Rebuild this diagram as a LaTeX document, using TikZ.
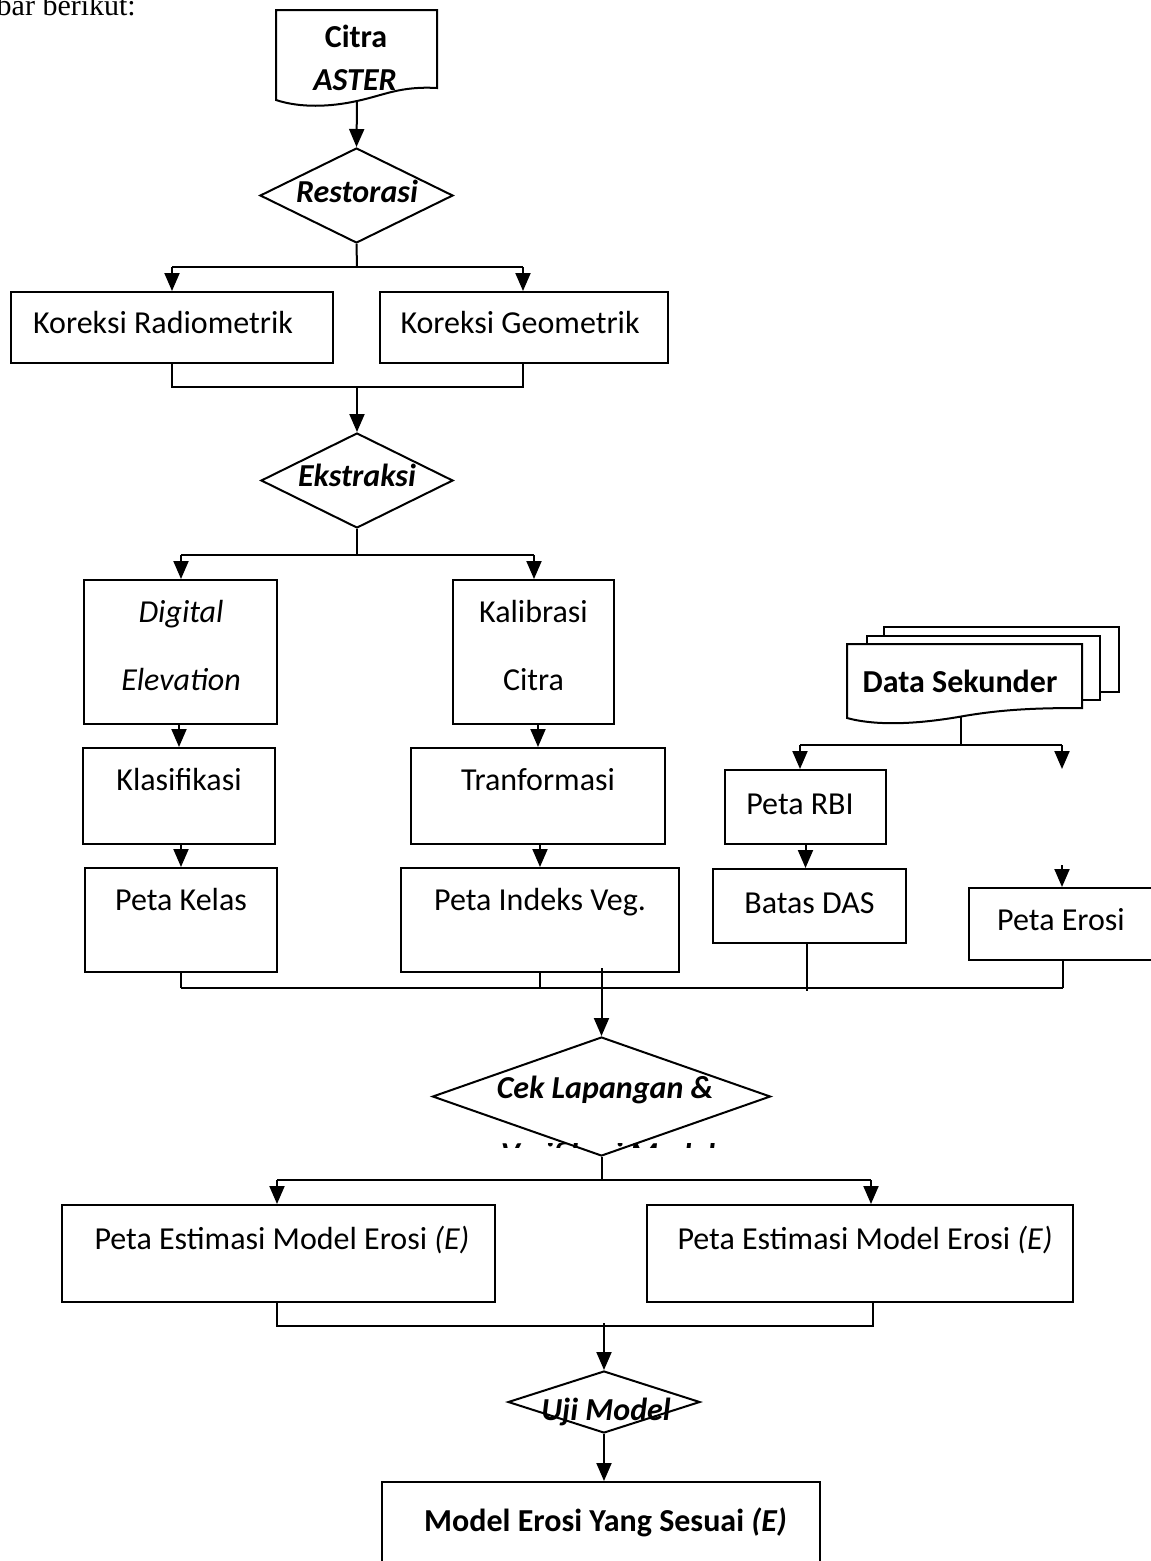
\documentclass[tikz,border=0pt]{standalone}
\usepackage{fontspec}
\setmainfont{Carlito}
\newfontfamily\headserif{Liberation Serif}
\usetikzlibrary{arrows.meta,shapes.geometric}
\newcommand\myfs{\fontsize{32}{38}\selectfont}
\tikzset{
  ln/.style={line width=2pt},
  arr/.style={line width=2pt,-{Triangle[length=18pt,width=15pt]}},
  bx/.style={draw,line width=2pt,rectangle,inner sep=0pt,fill=white},
  dia/.style={draw,line width=2pt,diamond,inner sep=0pt,fill=white},
  txt/.style={font=\myfs,inner sep=0pt,text height=20pt,text depth=0pt},
}
\begin{document}
\begin{tikzpicture}[x=1pt,y=-1pt]
\useasboundingbox (0,0) rectangle (1151,1561);
\clip (0,0) rectangle (1151,1561);

% header text (cut off at the left)
\node[anchor=base east,inner sep=0pt,font=\headserif\fontsize{30}{34}\selectfont] (head) at (136,15) {gambar berikut:};

% ---------- Citra ASTER (document shape)
\draw[ln,fill=white] (276,10) -- (437,10) -- (437,88)
   .. controls (400,86) and (385,95) .. (357,101)
   .. controls (330,107) and (300,108) .. (276,100) -- cycle;
\coordinate (citraB) at (357,101);
\node[txt,font=\myfs\bfseries] (citraT1) at (356,37) {Citra};
\node[txt,font=\myfs\bfseries\itshape] (citraT2) at (355,80) {ASTER};

% ---------- Restorasi
\node[dia,minimum width=193pt,minimum height=95pt] (res) at (356.5,195.5) {};
\node[txt,font=\myfs\bfseries\itshape] (resT) at (357,192) {Restorasi};
\draw[arr] (citraB) -- (res.north);

% ---------- Koreksi
\node[bx,minimum width=322pt,minimum height=71pt] (kr) at (171.5,327.5) {};
\node[txt] (krT) at (163,323) {Koreksi Radiometrik};
\node[bx,minimum width=288pt,minimum height=71pt] (kg) at (524,327.5) {};
\node[txt] (kgT) at (520,323) {Koreksi Geometrik};

\coordinate (b1) at (357,267);
\coordinate (b1L) at (172,267);
\coordinate (b1R) at (523,267);
\draw[ln] (res.south) -- (b1);
\draw[ln] (b1L) -- (b1R);
\draw[arr] (b1L) -- (b1L |- kr.north);
\draw[arr] (b1R) -- (b1R |- kg.north);

% ---------- Ekstraksi
\node[dia,minimum width=192pt,minimum height=95pt] (eks) at (357,480.5) {};
\node[txt,font=\myfs\bfseries\itshape] (eksT) at (357,476) {Ekstraksi};

\coordinate (j1L) at (172,387);
\coordinate (j1R) at (523,387);
\coordinate (j1) at (357,387);
\draw[ln] (j1L |- kr.south) -- (j1L) -- (j1R) -- (j1R |- kg.south);
\draw[arr] (j1) -- (eks.north);

% ---------- Digital Elevation / Kalibrasi Citra
\node[bx,minimum width=193pt,minimum height=144pt] (dig) at (180.5,652) {};
\node[txt,font=\myfs\itshape] (digT1) at (181,612) {Digital};
\node[txt,font=\myfs\itshape] (digT2) at (181,680) {Elevation};
\node[bx,minimum width=161pt,minimum height=144pt] (kal) at (533.5,652) {};
\node[txt] (kalT1) at (533.5,612) {Kalibrasi};
\node[txt] (kalT2) at (533.5,680) {Citra};

\coordinate (b2) at (357,555);
\coordinate (b2L) at (181,555);
\coordinate (b2R) at (534,555);
\draw[ln] (eks.south) -- (b2);
\draw[ln] (b2L) -- (b2R);
\draw[arr] (b2L) -- (b2L |- dig.north);
\draw[arr] (b2R) -- (b2R |- kal.north);

% ---------- Klasifikasi / Tranformasi
\node[bx,minimum width=192pt,minimum height=96pt] (klas) at (179,796) {};
\node[txt] (klasT) at (179,780) {Klasifikasi};
\node[bx,minimum width=254pt,minimum height=96pt] (tran) at (538,796) {};
\node[txt] (tranT) at (538,780) {Tranformasi};
\draw[arr] (dig.south -| klas.north) -- (klas.north);
\draw[arr] (kal.south -| tran.north) -- (tran.north);

% ---------- Peta Kelas / Peta Indeks Veg.
\node[bx,minimum width=192pt,minimum height=104pt] (kelas) at (181,920) {};
\node[txt] (kelasT) at (181,900) {Peta Kelas};
\node[bx,minimum width=278pt,minimum height=104pt] (ind) at (540,920) {};
\node[txt] (indT) at (540,900) {Peta Indeks Veg.};
\draw[arr] (klas.south -| kelas.north) -- (kelas.north);
\draw[arr] (tran.south -| ind.north) -- (ind.north);

% ---------- Data Sekunder (multi-document)
\draw[ln,fill=white] (884,627) rectangle (1119,692);
\draw[ln,fill=white] (867,636) rectangle (1100,700);
\draw[ln,fill=white] (847,644) -- (1082,644) -- (1082,708)
   .. controls (1040,708) and (1005,709) .. (964,716)
   .. controls (925,723) and (880,727) .. (847,718) -- cycle;
\coordinate (dsB) at (961,716);
\node[txt,font=\myfs\bfseries] (dsT) at (960,682) {Data Sekunder};

\node[bx,minimum width=161pt,minimum height=74pt] (rbi) at (805.5,807) {};
\node[txt] (rbiT) at (800,804) {Peta RBI};
\node[bx,minimum width=193pt,minimum height=74pt] (bat) at (809.5,906) {};
\node[txt] (batT) at (809.5,903) {Batas DAS};
\node[bx,minimum width=190pt,minimum height=72pt] (ero) at (1064,924) {};
\node[txt] (eroT) at (1061,920) {Peta Erosi};

\coordinate (b3) at (961,745);
\coordinate (b3L) at (800,745);
\coordinate (b3R) at (1062,745);
\coordinate (b3Rend) at (1062,769);
\coordinate (eroIn) at (1062,865);
\draw[ln] (dsB) -- (b3);
\draw[ln] (b3L) -- (b3R);
\draw[arr] (b3L) -- (b3L |- rbi.north);
\draw[arr] (b3R) -- (b3Rend);
\draw[arr] (eroIn) -- (eroIn |- ero.north);
\draw[arr] (rbi.south) -- (rbi.south |- bat.north);

% ---------- join to Cek Lapangan
\coordinate (j2L) at (181,988);
\coordinate (j2R) at (1063,988);
\coordinate (j2top) at (601.5,968);
\draw[ln] (kelas.south) -- (j2L);
\draw[ln] (ind.south) -- (540,988);
\draw[ln] (807,943) -- (807,991);
\draw[ln] (1063,960) -- (j2R);
\draw[ln] (j2L) -- (j2R);

\node[dia,minimum width=338pt,minimum height=119pt] (cek) at (601.5,1096.5) {};
\node[txt,font=\myfs\bfseries\itshape] (cekT) at (605,1088) {Cek Lapangan \&};
\begin{scope}
  \clip (440,1143) rectangle (770,1147);
  \node[txt,font=\myfs\bfseries\itshape] (cekT2) at (608,1154) {Verifikasi Model};
\end{scope}
\draw[arr] (j2top) -- (cek.north);

% ---------- Peta Estimasi boxes
\node[bx,minimum width=433pt,minimum height=97pt] (estL) at (278.5,1253.5) {};
\node[txt] (estLT) at (282,1239) {Peta Estimasi Model Erosi \textit{(E)}};
\node[bx,minimum width=426pt,minimum height=97pt] (estR) at (860,1253.5) {};
\node[txt] (estRT) at (865,1239) {Peta Estimasi Model Erosi \textit{(E)}};

\coordinate (b4) at (601.5,1180);
\coordinate (b4L) at (277,1180);
\coordinate (b4R) at (871,1180);
\draw[ln] (cek.south) -- (b4);
\draw[ln] (b4L) -- (b4R);
\draw[arr] (b4L) -- (b4L |- estL.north);
\draw[arr] (b4R) -- (b4R |- estR.north);

\coordinate (j3L) at (277,1326);
\coordinate (j3R) at (873,1326);
\coordinate (j3top) at (604,1323);
\draw[ln] (j3L |- estL.south) -- (j3L) -- (j3R) -- (j3R |- estR.south);

% ---------- Uji Model
\node[dia,minimum width=192pt,minimum height=62pt] (uji) at (604,1402) {};
\draw[arr] (j3top) -- (uji.north);
\node[txt,font=\myfs\bfseries\itshape] (ujiT) at (606,1410) {Uji Model};

% ---------- Model Erosi Yang Sesuai
\node[bx,minimum width=438pt,minimum height=140pt] (mod) at (601,1552) {};
\node[txt,font=\myfs\bfseries] (modT) at (605.5,1521) {Model Erosi Yang Sesuai \textit{(E)}};
\draw[arr] (uji.south) -- (uji.south |- mod.north);
\end{tikzpicture}
\end{document}
